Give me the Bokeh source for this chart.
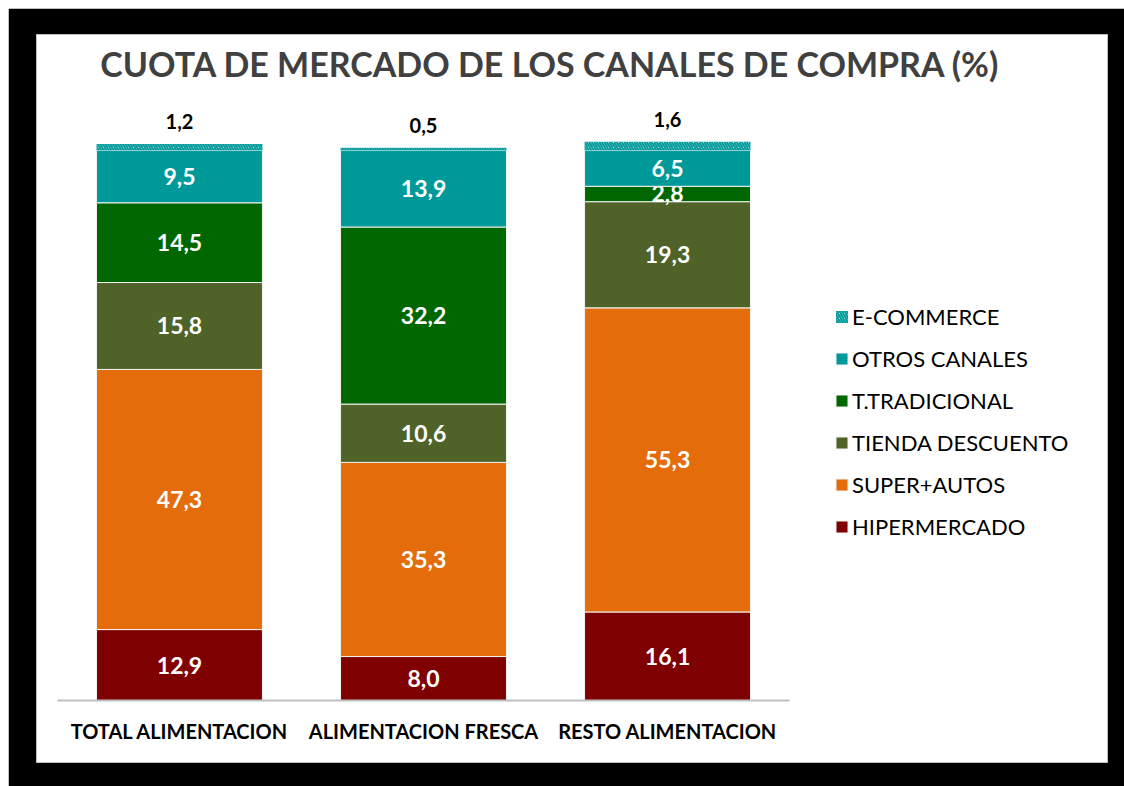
import numpy as np
from bokeh.plotting import figure
from bokeh.models import ColumnDataSource, Range1d, Legend, LegendItem
from bokeh.core.properties import value
from bokeh.embed import file_html
from bokeh.resources import INLINE

# ---- data ----
categories = ["TOTAL ALIMENTACION", "ALIMENTACION FRESCA", "RESTO ALIMENTACION"]
series_names = ["HIPERMERCADO", "SUPER+AUTOS", "TIENDA DESCUENTO", "T.TRADICIONAL", "OTROS CANALES", "E-COMMERCE"]
hipermercado = [12.9, 8.0, 16.1]
super_autos = [47.3, 35.3, 55.3]
tienda_descuento = [15.8, 10.6, 19.3]
t_tradicional = [14.5, 32.2, 2.8]
otros_canales = [9.5, 13.9, 6.5]
e_commerce = [1.2, 0.5, 1.6]
title_text = "CUOTA DE MERCADO DE LOS CANALES DE COMPRA (%)"

series_values = [hipermercado, super_autos, tienda_descuento, t_tradicional, otros_canales, e_commerce]
colors = ["#7f0000", "#e46c0a", "#4f6228", "#006600", "#009999", "#009999"]

FONT = "Lato"

p = figure(width=1116, height=778, output_backend="svg", toolbar_location=None,
           x_range=Range1d(-0.586, 3.803), y_range=Range1d(-11.27, 121.1),
           x_axis_type=None, y_axis_type=None,
           min_border_left=28, min_border_right=17, min_border_top=26, min_border_bottom=24)
p.margin = (8, 0, 0, 8)
p.border_fill_color = "black"
p.background_fill_color = "white"
p.outline_line_color = "#bfbfbf"
p.outline_line_width = 1
p.grid.visible = False

xs = np.arange(len(categories))
bottom = np.zeros(len(categories))
renderers = []
for name, vals, col in zip(series_names, series_values, colors):
    vals = np.array(vals, dtype=float)
    top = bottom + vals
    src = ColumnDataSource(dict(x=xs, bottom=bottom.copy(), top=top.copy(),
                                mid=(bottom + top) / 2,
                                lab=[f"{v:.1f}".replace(".", ",") for v in vals]))
    if name == "E-COMMERCE":
        r = p.vbar(x="x", width=0.68, bottom="bottom", top="top", source=src,
                   fill_color="white", line_color=None,
                   hatch_pattern="\\", hatch_color=col, hatch_scale=5, hatch_weight=2)
        p.text(x="x", y="top", text="lab", source=src, text_align="center",
               text_baseline="bottom", y_offset=-15, text_color="black",
               text_font=value(FONT), text_font_style="bold", text_font_size="20px")
    else:
        r = p.vbar(x="x", width=0.68, bottom="bottom", top="top", source=src,
                   fill_color=col, line_color="#f2f2f2", line_width=1)
        p.text(x="x", y="mid", text="lab", source=src, text_align="center",
               text_baseline="middle", text_color="white",
               text_font=value(FONT), text_font_style="bold", text_font_size="23px")
    renderers.append(r)
    bottom = top

# baseline axis line
p.segment(x0=[xs[0] - 0.5], x1=[xs[-1] + 0.5], y0=[0], y1=[0], line_color="#bfbfbf", line_width=2)

# category labels
cat_src = ColumnDataSource(dict(x=xs, y=[-5.6] * len(categories), t=categories))
p.text(x="x", y="y", text="t", source=cat_src, text_align="center", text_baseline="middle",
       text_color="black", text_font=value(FONT), text_font_style="bold", text_font_size="20px")

# title
p.text(x=[1.52], y=[115.8], text=[title_text], text_align="center", text_baseline="middle",
       text_color="#404040", text_font=value(FONT), text_font_style="bold", text_font_size="34px")

items = [LegendItem(label=n, renderers=[r]) for n, r in zip(series_names, renderers)][::-1]
legend = Legend(items=items, location=(798, 222), padding=0, margin=0,
                glyph_width=15, glyph_height=15, label_standoff=3, spacing=15,
                label_height=26, label_text_font=FONT, label_text_font_size="22px",
                label_text_color="black", border_line_color=None, background_fill_alpha=0)
p.add_layout(legend, "center")

open("out.html", "w").write(file_html(p, INLINE))
